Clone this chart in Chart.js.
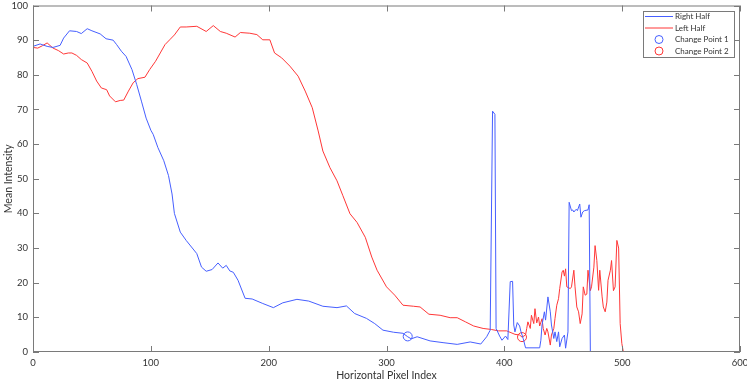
<!DOCTYPE html>
<html>
<head>
<meta charset="utf-8">
<script src="https://cdn.jsdelivr.net/npm/chart.js@4.4.1/dist/chart.umd.min.js"></script>
<style>
  body { margin: 0; background: #fff; }
  canvas { display: block; }
</style>
</head>
<body>
<canvas id="myChart" width="747" height="382"></canvas>
<script>
// Right half (blue): pixel index and mean intensity
const rightX = [0, 6, 12, 17, 23, 26, 31, 37, 41, 46, 50, 57, 62, 68, 71, 75, 79, 84, 88, 92, 96, 100, 102, 106, 111, 115, 118, 120, 125, 130, 139, 143, 147, 152, 157, 161, 164, 167, 170, 174, 180, 186, 195, 204, 212, 224, 234, 246, 258, 266, 273, 283, 290, 297, 306, 314, 318, 321, 326, 337, 348, 360, 371, 380, 385, 388, 390, 392, 393, 396, 398, 401, 403, 405, 407, 408, 409, 411, 413, 414, 416, 418, 430, 431, 432, 434, 435, 437, 439, 440, 442, 443, 444.5, 446, 447, 449, 451, 452, 454, 455, 457, 458, 459, 461, 462, 464, 465, 466.5, 468, 471, 472, 473, 512];
const rightY = [88.2, 88.9, 88.2, 87.9, 88.5, 90.6, 92.7, 92.5, 91.9, 93.3, 92.7, 91.8, 90.4, 90, 88.7, 86.8, 85.3, 81.5, 77.2, 72.4, 67.5, 64, 62.8, 59, 55.2, 50.9, 45.6, 40, 34.6, 32.2, 28.4, 24.5, 23.3, 23.8, 25.7, 24.2, 25, 23.4, 23, 20.7, 15.5, 15.3, 14, 12.8, 14.2, 15.2, 14.7, 13.2, 12.8, 13.3, 11.1, 9.7, 8.2, 6.3, 5.7, 5.4, 4.4, 3.8, 4.4, 3.2, 2.7, 2.2, 2.9, 2.3, 4.4, 6.3, 69.5, 68.6, 6.8, 4.6, 3.4, 4.6, 3.6, 20.3, 20.4, 7.8, 5.8, 8.5, 7.5, 6, 3.9, 1.2, 1.2, 3.4, 7.8, 11.6, 9.2, 15.9, 11.6, 7.8, 3.9, 5.8, 3, 5.8, 1.5, 3.9, 4.9, 1.1, 5.8, 43.2, 40.8, 41, 40.4, 41.2, 40.8, 42.7, 38.9, 40.4, 40.8, 41, 42.5, 0, 0];

// Left half (red)
const leftX = [0, 4, 8, 12, 17, 21.5, 26, 30, 33, 37, 41, 46, 50, 54, 58, 62.5, 65, 70, 74, 77, 81, 85, 89, 95, 99, 104, 108, 112, 116, 120, 125, 130, 139, 147, 153, 159, 164, 171.5, 176, 184, 190, 195, 201, 205, 211, 218, 225, 231, 237, 242, 246, 252, 258, 263, 269, 275, 282, 287.5, 292, 300, 307, 314, 323, 328.5, 336, 345.5, 354, 360, 367, 374, 382, 389, 395, 402, 409, 413, 415, 418, 419, 420, 422, 423, 425, 426, 427.5, 429, 430, 432, 433, 434.6, 436, 437, 439, 440, 442, 443, 444.5, 446, 447, 449, 450, 451, 452, 453, 456, 457, 459, 460, 461.5, 463, 464.4, 466, 467, 468.6, 470, 471, 473, 474, 476, 477, 478.5, 480, 481, 483, 484, 485.6, 487, 488, 490, 491, 492.6, 494, 495.5, 497, 498.3, 499.7, 501, 512];
const leftY = [87.9, 87.7, 88.4, 89.2, 87.7, 87, 86, 86.3, 86.3, 85.6, 84.4, 83.4, 81, 78.2, 76.2, 75.7, 73.9, 72.2, 72.6, 72.7, 75.3, 77.7, 78.9, 79.3, 81.5, 83.9, 86.3, 88.7, 90.1, 91.5, 93.8, 93.8, 94, 92.5, 94.2, 92.5, 92, 90.9, 92.2, 92, 91.6, 90.1, 90.1, 86.3, 84.9, 82.5, 79.6, 75.3, 70.5, 63.8, 58, 53.2, 49.4, 45.1, 39.9, 37.4, 33.1, 27.4, 23.6, 18.8, 16.4, 13.5, 13.2, 13, 10.9, 10.6, 9.9, 9.9, 8.7, 7.5, 6.8, 6.5, 6.1, 6.1, 5.1, 4.9, 4.3, 4.9, 6.8, 8.7, 6.8, 10.6, 8.2, 12.5, 8.4, 10.1, 7.5, 9.6, 6.8, 4.9, 6.8, 5.8, 2, 4.9, 6.8, 9.7, 13.5, 15.4, 18.3, 23.1, 23.6, 21.9, 24, 18.8, 18.3, 18.8, 23.6, 18.8, 13, 11.6, 8.2, 11, 18.8, 16.4, 16.7, 23.6, 17.7, 18.8, 24.5, 30.7, 26.4, 17.8, 23.6, 15.9, 13, 11.6, 14.4, 20.7, 23.6, 26.4, 17.7, 18.8, 32.2, 30, 8.2, 2.5, 0, 0];

// Change points
const changePoint1 = [{ x: 318, y: 4.5 }];
const changePoint2 = [{ x: 415, y: 4.3 }];

const xTicks = [0, 100, 200, 300, 400, 500, 600];
const yTicks = [0, 10, 20, 30, 40, 50, 60, 70, 80, 90, 100];

const azul = 'rgb(70, 95, 255)';
const rojo = 'rgb(255, 55, 55)';
const gris = '#7a7a7a';
const fuente = 'Lato, "Liberation Sans", sans-serif';

function puntos(xs, ys) {
    return xs.map((x, i) => ({ x: x, y: ys[i] }));
}

// Box around the axes with inward ticks (MATLAB style)
const cajaEjes = {
    id: 'cajaEjes',
    afterDatasetsDraw(chart) {
        const { ctx, chartArea: a, scales } = chart;
        const largo = 6;
        ctx.save();
        ctx.strokeStyle = gris;
        ctx.lineWidth = 1;
        ctx.strokeRect(a.left + 0.5, a.top + 0.5, a.right - a.left - 1, a.bottom - a.top - 1);
        ctx.beginPath();
        xTicks.forEach(v => {
            const px = Math.round(scales.x.getPixelForValue(v)) + 0.5;
            ctx.moveTo(px, a.bottom); ctx.lineTo(px, a.bottom - largo);
            ctx.moveTo(px, a.top); ctx.lineTo(px, a.top + largo);
        });
        yTicks.forEach(v => {
            const py = Math.round(scales.y.getPixelForValue(v)) + 0.5;
            ctx.moveTo(a.left, py); ctx.lineTo(a.left + largo, py);
            ctx.moveTo(a.right, py); ctx.lineTo(a.right - largo, py);
        });
        ctx.stroke();
        ctx.restore();
    }
};

// Legend in the top right corner, boxed
const leyenda = {
    id: 'leyenda',
    afterDraw(chart) {
        const { ctx } = chart;
        const x0 = 643, y0 = 11, w = 91, h = 46;
        ctx.save();
        ctx.fillStyle = '#fff';
        ctx.fillRect(x0, y0, w, h);
        ctx.strokeStyle = gris;
        ctx.lineWidth = 1;
        ctx.strokeRect(x0 + 0.5, y0 + 0.5, w, h);
        ctx.font = '8px ' + fuente;
        ctx.textBaseline = 'middle';
        chart.data.datasets.forEach((ds, i) => {
            const y = y0 + 5.5 + i * 11.5;
            const color = i % 2 === 0 ? azul : rojo;
            ctx.strokeStyle = color;
            ctx.lineWidth = 1;
            ctx.beginPath();
            if (ds.type === 'scatter') {
                ctx.arc(x0 + 16, y, 4, 0, Math.PI * 2);
            } else {
                ctx.moveTo(x0 + 2, y);
                ctx.lineTo(x0 + 30, y);
            }
            ctx.stroke();
            ctx.fillStyle = '#333';
            ctx.fillText(ds.label, x0 + 32, y);
        });
        ctx.restore();
    }
};

// keep the plot box fixed: no extra room for overhanging end labels
function sinRelleno(s) {
    s.paddingLeft = 0; s.paddingRight = 0; s.paddingTop = 0; s.paddingBottom = 0;
}

const ctx = document.getElementById('myChart').getContext('2d');
const chart = new Chart(ctx, {
    type: 'line',
    data: {
        datasets: [
            { label: 'Right Half', data: puntos(rightX, rightY), borderColor: azul, borderWidth: 1, pointRadius: 0, fill: false, tension: 0 },
            { label: 'Left Half', data: puntos(leftX, leftY), borderColor: rojo, borderWidth: 1, pointRadius: 0, fill: false, tension: 0 },
            { type: 'scatter', label: 'Change Point 1', data: changePoint1, borderColor: azul, backgroundColor: 'rgba(0,0,0,0)', borderWidth: 1, pointRadius: 4.5, pointStyle: 'circle' },
            { type: 'scatter', label: 'Change Point 2', data: changePoint2, borderColor: rojo, backgroundColor: 'rgba(0,0,0,0)', borderWidth: 1, pointRadius: 4.5, pointStyle: 'circle' }
        ]
    },
    options: {
        responsive: false,
        animation: false,
        layout: { padding: { left: 0, top: 4, right: 7, bottom: 0 } },
        plugins: { legend: { display: false }, tooltip: { enabled: false } },
        scales: {
            x: {
                type: 'linear',
                min: 0, max: 600,
                afterBuildTicks: s => { s.ticks = xTicks.map(v => ({ value: v })); },
                afterFit: s => { s.height = 30; sinRelleno(s); },
                grid: { display: false, drawTicks: false },
                border: { display: false },
                ticks: { padding: 5, color: '#333', font: { family: fuente, size: 9.5 }, maxRotation: 0 },
                title: { display: true, text: 'Horizontal Pixel Index', color: '#333', font: { family: fuente, size: 10.5 }, padding: 0 }
            },
            y: {
                min: 0, max: 100,
                afterBuildTicks: s => { s.ticks = yTicks.map(v => ({ value: v })); },
                afterFit: s => { s.width = 33; sinRelleno(s); },
                grid: { display: false, drawTicks: false },
                border: { display: false },
                ticks: { padding: 5, color: '#333', font: { family: fuente, size: 9.5 } },
                title: { display: true, text: 'Mean Intensity', color: '#333', font: { family: fuente, size: 10.5 }, padding: { top: 2, bottom: 0 } }
            }
        }
    },
    plugins: [cajaEjes, leyenda]
});
</script>
</body>
</html>
